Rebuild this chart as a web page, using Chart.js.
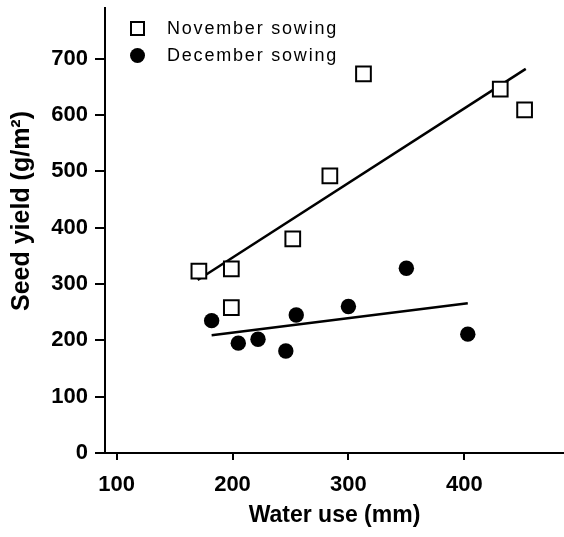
<!DOCTYPE html>
<html><head><meta charset="utf-8">
<script src="https://cdn.jsdelivr.net/npm/chart.js@4/dist/chart.umd.min.js"></script>
<style>html,body{margin:0;padding:0;background:#fff}canvas{display:block}</style>
</head><body>
<canvas id="c" width="564" height="537"></canvas>
<script>
// ---- data ----
const novemberWater = [171, 199, 199, 252, 284, 313, 431, 452];
const novemberYield = [323, 327, 258, 380, 492, 673, 646, 609];
const decemberWater = [182, 205, 222, 246, 255, 300, 350, 403];
const decemberYield = [235, 195, 202, 181, 245, 260, 328, 211];
const novemberFitWater = [170, 453];
const novemberFitYield = [307, 682];
const decemberFitWater = [182, 403];
const decemberFitYield = [209, 266];
const seriesLabels = ['November sowing', 'December sowing'];
const xTickValues = [100, 200, 300, 400];
const yTickValues = [0, 100, 200, 300, 400, 500, 600, 700];
const xTitle = 'Water use (mm)';
const yTitle = 'Seed yield (g/m²)';

const pts = (xs, ys) => xs.map((x, i) => ({x: x, y: ys[i]}));
const FONT = '"Liberation Sans", Arial, Helvetica, sans-serif';

const insetLegend = {
  id: 'insetLegend',
  afterDatasetsDraw(chart) {
    const ctx = chart.ctx, a = chart.chartArea;
    ctx.save();
    ctx.font = '18px ' + FONT;
    try { ctx.letterSpacing = '1.8px'; } catch (e) {}
    ctx.textBaseline = 'middle';
    ctx.textAlign = 'left';
    [0, 1].forEach((di, i) => {
      const ds = chart.data.datasets[di];
      const cx = a.left + 32.5, cy = a.top + 20.5 + i * 27;
      ctx.lineWidth = 2;
      ctx.strokeStyle = '#000';
      if (ds.pointStyle === 'rect') {
        ctx.fillStyle = '#fff';
        ctx.fillRect(cx - 6.5, cy - 6.5, 13, 13);
        ctx.strokeRect(cx - 6.5, cy - 6.5, 13, 13);
      } else {
        ctx.beginPath();
        ctx.arc(cx, cy, 7.5, 0, Math.PI * 2);
        ctx.fillStyle = '#000';
        ctx.fill();
      }
      ctx.fillStyle = '#000';
      ctx.fillText(ds.label, a.left + 62, cy + 1);
    });
    ctx.restore();
  }
};

// y-axis title drawn rotated, placed where the reference has it
const yAxisTitle = {
  id: 'yAxisTitle',
  afterDraw(chart) {
    const ctx = chart.ctx, a = chart.chartArea;
    ctx.save();
    ctx.translate(22, a.top + 203);
    ctx.rotate(-Math.PI / 2);
    ctx.font = 'bold 25px ' + FONT;
    ctx.fillStyle = '#000';
    ctx.textAlign = 'center';
    ctx.textBaseline = 'middle';
    ctx.fillText(yTitle, 0, 0);
    ctx.restore();
  }
};

const zeroPad = s => { s.paddingTop = 0; s.paddingBottom = 0; s.paddingLeft = 0; s.paddingRight = 0; };

new Chart(document.getElementById('c'), {
  type: 'scatter',
  data: {
    datasets: [
      {
        label: seriesLabels[0],
        data: pts(novemberWater, novemberYield),
        pointStyle: 'rect',
        pointRadius: 10.4,
        pointHoverRadius: 10.4,
        pointBackgroundColor: '#fff',
        pointBorderColor: '#000',
        pointBorderWidth: 2,
        order: 0
      },
      {
        label: seriesLabels[1],
        data: pts(decemberWater, decemberYield),
        pointStyle: 'circle',
        pointRadius: 7.7,
        pointHoverRadius: 7.7,
        pointBackgroundColor: '#000',
        pointBorderColor: '#000',
        pointBorderWidth: 0,
        order: 0
      },
      {
        label: 'November fit',
        data: pts(novemberFitWater, novemberFitYield),
        showLine: true,
        borderColor: '#000',
        borderWidth: 2.5,
        pointRadius: 0,
        order: 1
      },
      {
        label: 'December fit',
        data: pts(decemberFitWater, decemberFitYield),
        showLine: true,
        borderColor: '#000',
        borderWidth: 2.5,
        pointRadius: 0,
        order: 1
      }
    ]
  },
  options: {
    responsive: false,
    animation: false,
    devicePixelRatio: 1,
    layout: { autoPadding: false, padding: { top: 8, left: 0, right: 0, bottom: 0 } },
    plugins: { legend: { display: false }, tooltip: { enabled: false } },
    scales: {
      x: {
        type: 'linear',
        min: 90,
        max: 486,
        afterBuildTicks: s => { s.ticks = xTickValues.map(v => ({value: v})); },
        afterFit: s => { s.height = 84; zeroPad(s); },
        grid: { drawOnChartArea: false, drawTicks: true, tickLength: 7, color: '#000', lineWidth: 2 },
        border: { display: true, color: '#000', width: 2 },
        ticks: { color: '#000', padding: 12, font: { family: FONT, size: 22, weight: 'bold' }, maxRotation: 0 },
        title: { display: true, text: xTitle, color: '#000', padding: { top: 0, bottom: 8 }, font: { family: FONT, size: 23, weight: 'bold' } }
      },
      y: {
        type: 'linear',
        min: 0,
        max: 790,
        afterBuildTicks: s => { s.ticks = yTickValues.map(v => ({value: v})); },
        afterFit: s => { s.width = 105; zeroPad(s); },
        grid: { drawOnChartArea: false, drawTicks: true, tickLength: 10, color: '#000', lineWidth: 2 },
        border: { display: true, color: '#000', width: 2 },
        ticks: { color: '#000', padding: 7, font: { family: FONT, size: 22, weight: 'bold' } },
        title: { display: false, text: yTitle }
      }
    }
  },
  plugins: [insetLegend, yAxisTitle]
});
</script>
</body></html>
